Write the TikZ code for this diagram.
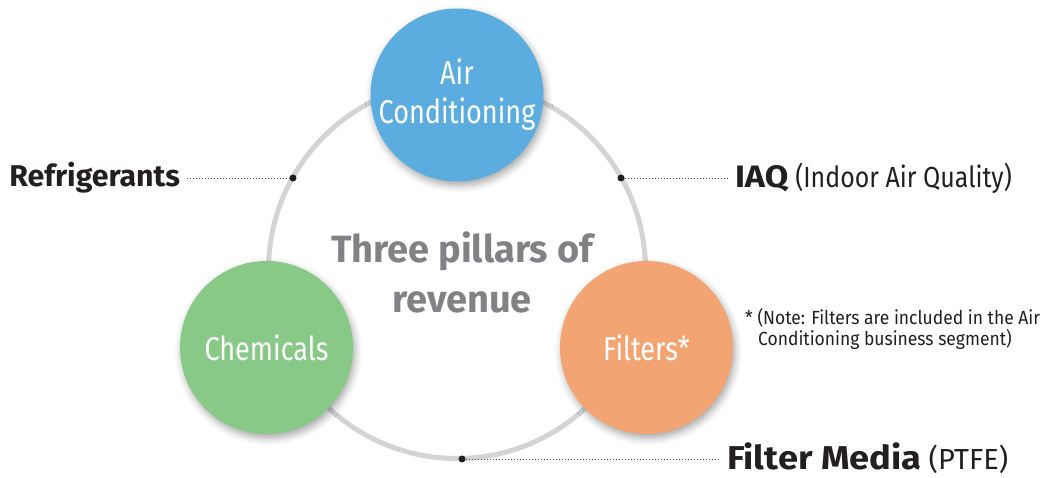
\documentclass[tikz,border=0pt]{standalone}
\usepackage{fontspec}
\setmainfont{Fira Sans}
\newfontfamily\condfont[FakeStretch=0.82]{Fira Sans}
\newfontfamily\regnarrow[FakeStretch=0.86]{Fira Sans}
\newfontfamily\notefont[FakeStretch=0.92]{Fira Sans}
\newfontfamily\boldwide[FakeStretch=1.01]{Fira Sans}
\newfontfamily\boldwider[FakeStretch=1.1]{Fira Sans}
\usetikzlibrary{shadows.blur}
\definecolor{acblue}{HTML}{5BADE0}
\definecolor{chgreen}{HTML}{88C988}
\definecolor{filorange}{HTML}{F3A473}
\definecolor{ringgray}{HTML}{D3D4D6}
\definecolor{titlegray}{HTML}{808285}
\definecolor{labelblack}{HTML}{231F20}
\begin{document}
\begin{tikzpicture}[x=1pt,y=-1pt,
  pillar/.style={circle, minimum size=173pt, inner sep=0pt, text=white,
    font=\condfont\fontsize{33}{39}\selectfont, align=center,
    blur shadow={shadow xshift=2pt, shadow yshift=-4pt, shadow blur radius=7pt, shadow opacity=35}},
  ring/.style={draw=ringgray, line width=5pt},
  dotnode/.style={circle, fill=labelblack, minimum size=7pt, inner sep=0pt},
  leader/.style={draw=labelblack!80, line width=0.9pt, dash pattern=on 0.9pt off 2.1pt},
  lab/.style={inner sep=0pt, text=labelblack},
  note/.style={inner sep=0pt, text=labelblack, font=\notefont\fontsize{19}{21}\selectfont, align=left}
]
\useasboundingbox (0,0) rectangle (1042,478);
\coordinate (rc) at (457,270);
\draw[ring] (rc) circle (188.5pt);

\node[dotnode] (dref) at (293,178) {};
\node[dotnode] (diaq) at (621,178) {};
\node[dotnode] (dfm) at (462,459) {};

\node[pillar, fill=acblue] (ac) at (457,95) {Air\\Conditioning};
\node[pillar, fill=chgreen] (chem) at (266.5,347.5) {Chemicals};
\node[pillar, fill=filorange] (fil) at (646.5,347.5) {Filters*};

\node[inner sep=0pt, text=titlegray, align=center, font=\bfseries\fontsize{38}{50}\selectfont] (title) at (462,272) {Three pillars of\\revenue};

\node[lab, anchor=base east, outer xsep=7pt] (ref) at (187,187) {\boldwide\bfseries\fontsize{30}{34}\selectfont Refrigerants};
\node[lab, anchor=base west, outer xsep=8pt] (iaq) at (727,188) {{\boldwider\bfseries\fontsize{31}{34}\selectfont IAQ}\hspace{7pt}{\regnarrow\fontsize{29}{34}\selectfont(Indoor Air Quality)}};
\node[lab, anchor=base west, outer xsep=9pt] (fm) at (718,469) {{\boldwider\bfseries\fontsize{33}{38}\selectfont Filter Media}\hspace{7pt}{\fontsize{29}{34}\selectfont(PTFE)}};
\node[note, anchor=base west] (nt) at (745,346) {*\ (Note: Filters are included in the Air\\\hspace*{13pt}Conditioning business segment)};

\draw[leader] (ref.east |- dref) -- (dref);
\draw[leader] (diaq) -- (iaq.west |- diaq);
\draw[leader] (dfm) -- (fm.west |- dfm);
\end{tikzpicture}
\end{document}
